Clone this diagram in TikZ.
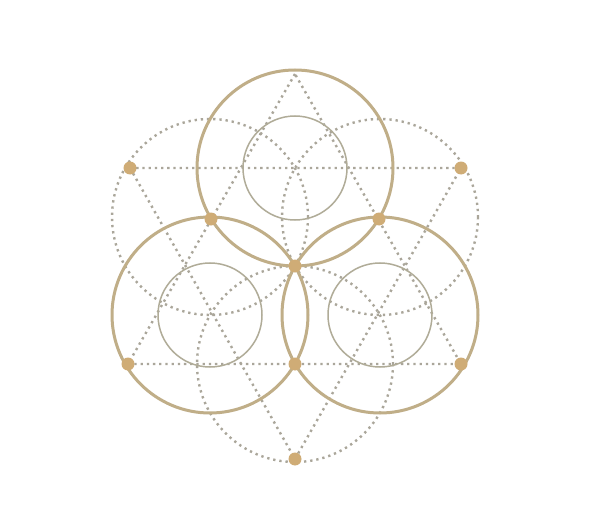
\documentclass[tikz,border=0pt]{standalone}
\begin{document}
\begin{tikzpicture}[x=1pt,y=-1pt,
  dotline/.style={draw=dotgray,line width=2.4pt,dash pattern=on 2.3pt off 3.9pt},
  bigring/.style={draw=ringtan,line width=3pt},
  smallring/.style={draw=innergray,line width=1.5pt},
  goldpt/.style={circle,fill=dotgold,inner sep=0pt,minimum size=13pt}]
\definecolor{dotgray}{RGB}{170,166,154}
\definecolor{ringtan}{RGB}{192,174,136}
\definecolor{innergray}{RGB}{176,172,152}
\definecolor{dotgold}{RGB}{207,172,118}
\useasboundingbox[fill=white] (0,0) rectangle (606,519);
% key points
\coordinate (O) at (295,266);
\coordinate (T) at (295,168);
\coordinate (L) at (210,315);
\coordinate (R) at (380,315);
\coordinate (UL) at (210,217);
\coordinate (UR) at (380,217);
\coordinate (B) at (295,364);
\coordinate (A1) at (130,168);
\coordinate (A2) at (461,168);
\coordinate (A3) at (295,459);
\coordinate (B1) at (295,74);
\coordinate (B2) at (128,364);
\coordinate (B3) at (461,364);
% dotted construction
\draw[dotline] (A1) -- (A2) -- (A3) -- cycle;
\draw[dotline] (B1) -- (B2) -- (B3) -- cycle;
\draw[dotline] (UL) circle[radius=98];
\draw[dotline] (UR) circle[radius=98];
\draw[dotline] (B) circle[radius=98];
% inner circles
\draw[smallring] (T) circle[radius=52];
\draw[smallring] (L) circle[radius=52];
\draw[smallring] (R) circle[radius=52];
% big circles
\draw[bigring] (T) circle[radius=98];
\draw[bigring] (L) circle[radius=98];
\draw[bigring] (R) circle[radius=98];
% gold points
\node[goldpt] (p1) at (A1) {};
\node[goldpt] (p2) at (A2) {};
\node[goldpt] (p3) at (A3) {};
\node[goldpt] (p4) at (B2) {};
\node[goldpt] (p5) at (B3) {};
\node[goldpt] (p6) at (211,219) {};
\node[goldpt] (p7) at (379,219) {};
\node[goldpt] (p8) at (O) {};
\node[goldpt] (p9) at (B) {};
\end{tikzpicture}
\end{document}
